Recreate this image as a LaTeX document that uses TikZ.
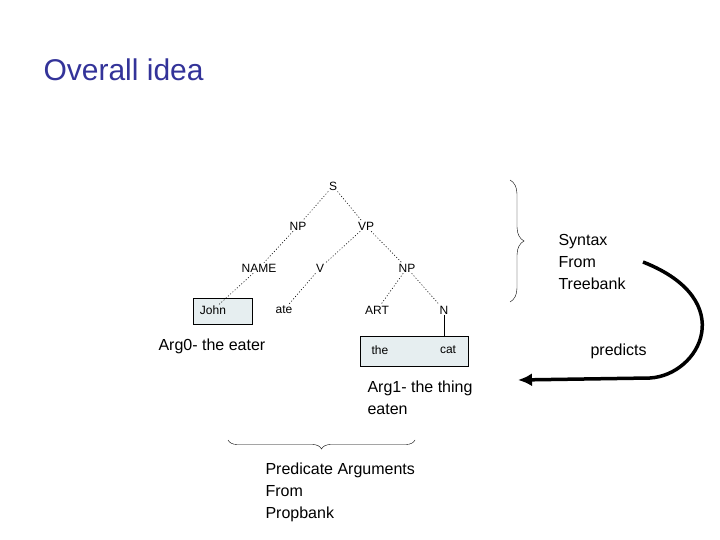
\documentclass[tikz,border=0pt]{standalone}
\usepackage{fontspec}
\setmainfont{Liberation Sans}
\usetikzlibrary{decorations.pathreplacing,arrows.meta}
\definecolor{ttl}{HTML}{333399}
\definecolor{boxf}{HTML}{E6EEF0}
\begin{document}
\begin{tikzpicture}[x=1pt,y=-1pt,
  tn/.style={font=\fontsize{12}{14}\selectfont,inner sep=1pt},
  tl/.style={dash pattern=on 1pt off 2pt,line width=0.6pt},
  lab/.style={font=\fontsize{16}{22}\selectfont,align=left,anchor=west},
  bx/.style={draw,fill=boxf,line width=0.6pt}]
\useasboundingbox (0,0) rectangle (720,540);
\node[anchor=west,text=ttl,font=\fontsize{30}{34}\selectfont] (title) at (40,70) {Overall idea};
\draw[bx] (193,298) rectangle (252,324);
\draw[bx] (360,336) rectangle (468,366);
\node[tn] (S) at (333,186) {S};
\node[tn] (NP1) at (298,226) {NP};
\node[tn] (VP) at (366,226) {VP};
\node[tn] (NAME) at (259,268) {NAME};
\node[tn] (V) at (320,268) {V};
\node[tn] (NP2) at (407,268) {NP};
\node[tn] (John) at (213,310) {John};
\node[tn] (ate) at (284,310) {ate};
\node[tn] (ART) at (377,310) {ART};
\node[tn] (N) at (444,310) {N};
\node[tn] (the) at (380,350) {the};
\node[tn] (cat) at (448,350) {cat};
\draw[tl] (S) -- (NP1); \draw[tl] (S) -- (VP);
\draw[tl] (NP1) -- (NAME); \draw[tl] (VP) -- (V); \draw[tl] (VP) -- (NP2);
\draw[tl] (NAME) -- (John); \draw[tl] (V) -- (ate);
\draw[tl] (NP2) -- (ART); \draw[tl] (NP2) -- (N);
\draw[line width=0.6pt] (N.south) -- (444,336);
\node[lab] (arg0) at (155,346) {Arg0- the eater};
\node[lab] (arg1) at (364,398) {Arg1- the thing\\eaten};
\node[lab] (syn) at (555,262) {Syntax\\From\\Treebank};
\node[lab] (pred) at (587,351) {predicts};
\node[lab] (pa) at (262,492) {Predicate Arguments\\From\\Propbank};
\draw[thin,decorate,decoration={brace,amplitude=14pt}] (510,180) -- (510,302);
\draw[thin,decorate,decoration={brace,amplitude=9pt}] (415,440) -- (228,440);
\coordinate (a0) at (643,262);
\coordinate (a1) at (518,380);
\draw[line width=3.5pt,-{Latex[length=14pt,width=13pt]}] (a0) .. controls (740,300) and (700,375) .. (650,378) -- (a1);
\end{tikzpicture}
\end{document}
